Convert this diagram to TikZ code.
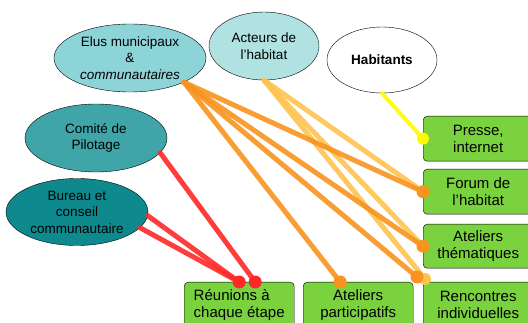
\documentclass[tikz,border=0pt]{standalone}
\usepackage{fontspec}
\setmainfont{Liberation Sans}
\usetikzlibrary{shapes.geometric}

\definecolor{tealclair}{RGB}{141,212,216}
\definecolor{tealpale}{RGB}{176,226,226}
\definecolor{tealmoyen}{RGB}{64,165,168}
\definecolor{tealfonce}{RGB}{14,138,142}
\definecolor{vert}{RGB}{123,210,63}
\definecolor{rouge}{RGB}{255,40,40}
\definecolor{orangef}{RGB}{247,147,30}
\definecolor{orangec}{RGB}{255,195,80}
\definecolor{jaune}{RGB}{255,250,0}

\begin{document}
\begin{tikzpicture}[x=1pt, y=-1pt, line join = round, line cap = round,
    bulle/.style={ellipse, draw=black, thin, inner sep=0pt, align=center,
        font=\fontsize{13.5}{16.5}\selectfont},
    cadre/.style={draw=black, thin, fill=vert, rounded corners=4pt, anchor=north west,
        minimum width=110pt, minimum height=45pt, align=center,
        font=\fontsize{15}{17}\selectfont},
    lien/.style={line width=5pt, opacity=.9}]
\useasboundingbox (0,0) rectangle (528,323);

% publics
\node[bulle, fill=tealclair, minimum width=152pt, minimum height=68pt] (elus) at (130,58)
    {Elus municipaux\\\&\\\textit{communautaires}};
\node[bulle, fill=tealpale, minimum width=110pt, minimum height=68pt] (acteurs) at (264,46)
    {Acteurs de\\l'habitat};
\node[bulle, fill=white, minimum width=110pt, minimum height=66pt] (habitants) at (382,60)
    {\bfseries Habitants};
\node[bulle, fill=tealmoyen, minimum width=142pt, minimum height=68pt] (comite) at (96,138)
    {Comité de\\Pilotage};
\node[bulle, fill=tealfonce, minimum width=142pt, minimum height=67pt] (bureau) at (77,212)
    {Bureau et\\conseil\\communautaire};

% outils
\node[cadre] (presse) at (423,116) {Presse,\\internet};
\node[cadre] (forum) at (423,169) {Forum de\\l'habitat};
\node[cadre, minimum height=44pt] (themes) at (423,224) {Ateliers\\thématiques};
\node[cadre, align=left] (reunions) at (184,282) {Réunions à\\chaque étape};
\node[cadre] (participatifs) at (303,282) {Ateliers\\participatifs};
\node[cadre] (rencontres) at (423,282) {Rencontres\\individuelles};

\coordinate [] (pReu) at (reunions.north);
\coordinate [] (pReuB) at ([xshift=16pt]reunions.north);
\coordinate [] (pPart) at ([xshift=-18pt]participatifs.north);
\coordinate [] (pRenc) at ([xshift=-6pt,yshift=5pt]rencontres.north west);
\coordinate [] (pRencB) at ([xshift=2pt,yshift=3pt]rencontres.north west);

% liens
\foreach \i in {forum.west,themes.west,pRencB}
    \draw[lien, orangec] (acteurs.south) -- (\i);
\fill[orangec] (pRencB) circle (6);
\foreach \i in {forum.west,themes.west,pRenc,pPart}
    \draw[lien, orangef] (elus.south east) -- (\i);
\foreach \i in {forum.west,themes.west,pRenc,pPart}
    \fill[orangef] (\i) circle (6.5);
\draw[lien, jaune, line width=4pt] (habitants.south) -- (presse.west);
\fill[jaune] (presse.west) circle (6);
\draw[lien, rouge] (comite.-13) -- (pReuB);
\draw[lien, rouge] (bureau.-3) -- (pReu);
\draw[lien, rouge] (bureau.-14) -- (pReu);
\foreach \i in {pReu,pReuB}
    \fill[rouge] (\i) circle (6.5);
\end{tikzpicture}
\end{document}
